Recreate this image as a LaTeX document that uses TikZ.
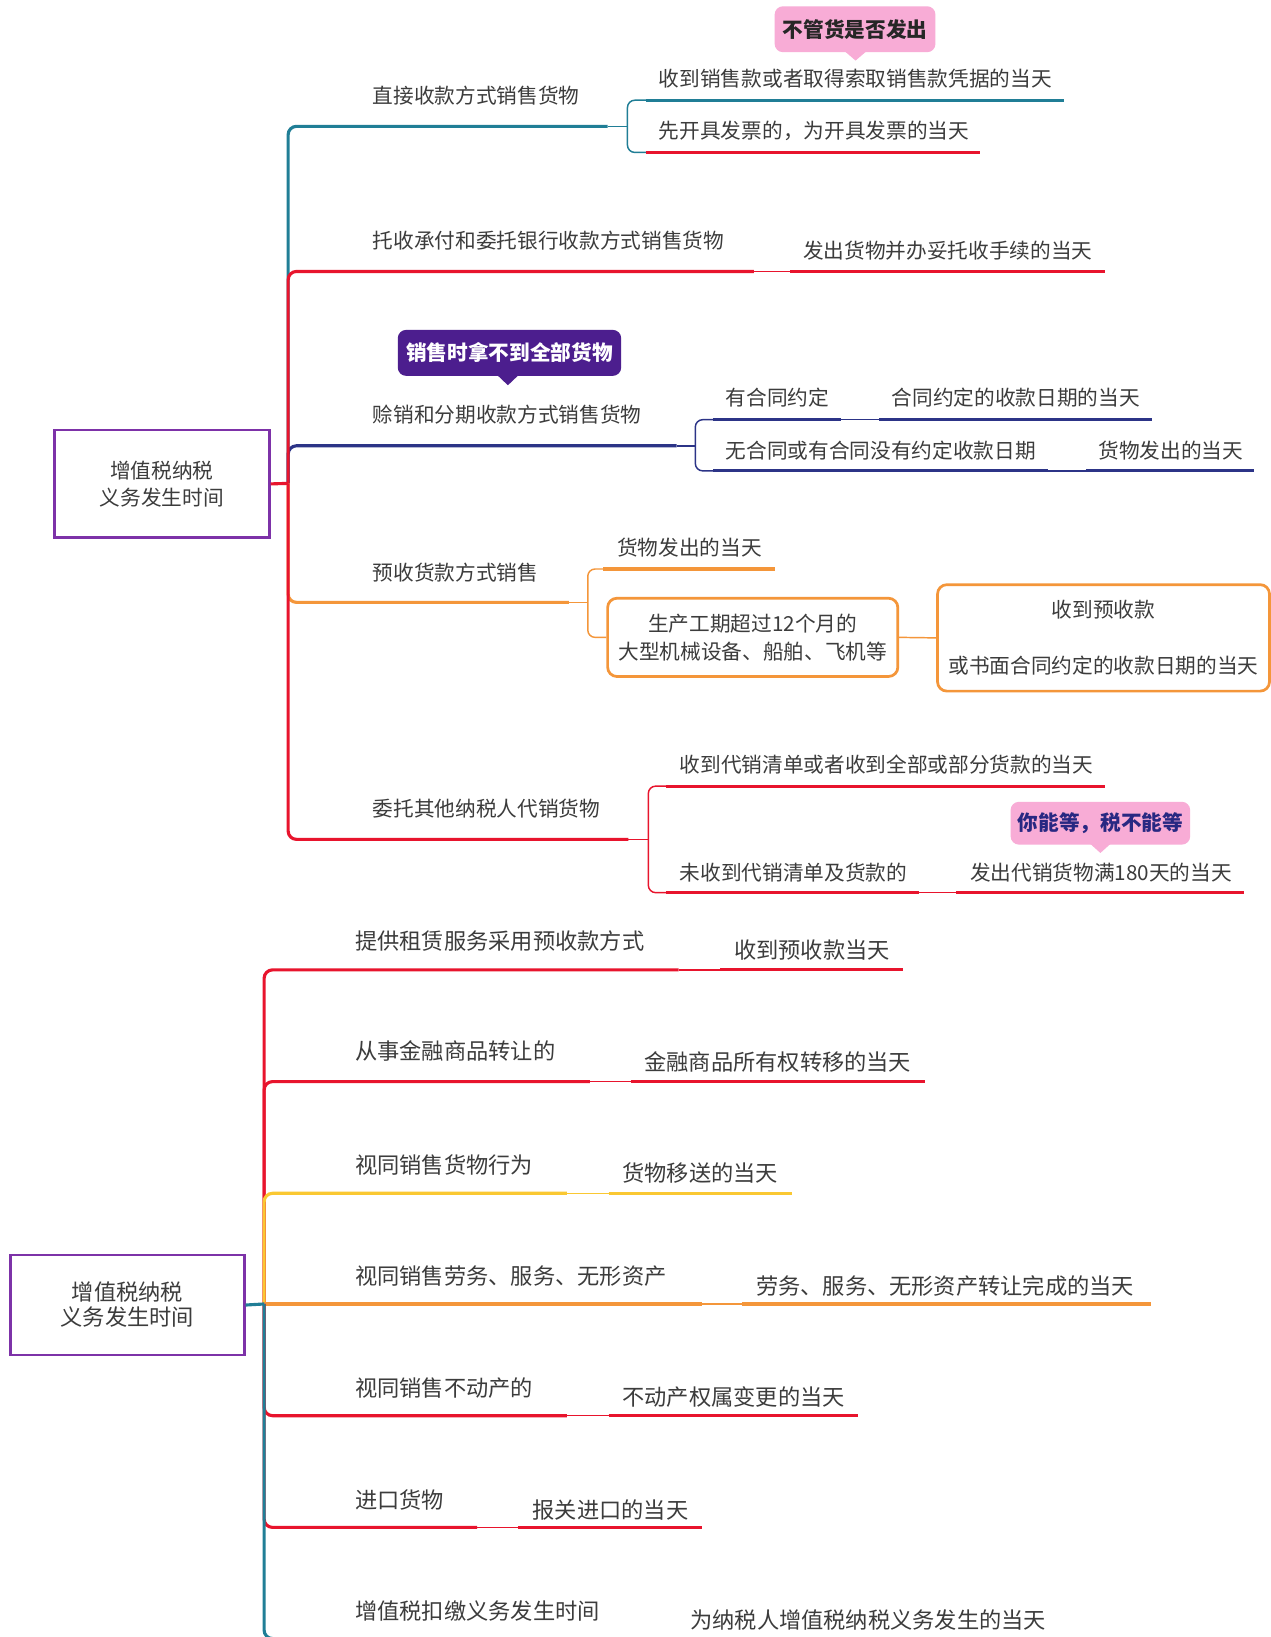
\documentclass[tikz,border=0pt]{standalone}
\usepackage{fontspec}
\setmainfont{Noto Sans CJK SC}
\definecolor{cteal}{RGB}{32,126,150}
\definecolor{cred}{RGB}{232,20,45}
\definecolor{cnavy}{RGB}{44,52,135}
\definecolor{corange}{RGB}{244,150,58}
\definecolor{cyellow}{RGB}{250,200,50}
\definecolor{cpurple}{RGB}{125,50,168}
\definecolor{cpink}{RGB}{248,172,214}
\definecolor{cdeep}{RGB}{76,30,142}
\definecolor{ctext}{RGB}{60,60,60}
\definecolor{cnavytext}{RGB}{40,40,130}
\newcommand\mainsize{\fontsize{19.8}{24}\selectfont}
\newcommand\lowsize{\fontsize{21.3}{24}\selectfont}
\tikzset{
 lbl/.style={anchor=west, inner sep=0pt, text=ctext, font=\mainsize},
 lbllow/.style={anchor=west, inner sep=0pt, text=ctext, font=\lowsize},
 trunk/.style={line width=3pt, rounded corners=8pt},
 bline/.style={line width=3pt},
 link/.style={line width=1.4pt},
 brace/.style={line width=1.4pt, rounded corners=7pt},
 rootbox/.style={draw=cpurple, line width=2.6pt, align=center, text=ctext, inner sep=0pt},
 obox/.style={draw=corange, line width=2.6pt, rounded corners=9pt, align=center, text=ctext, font=\mainsize, inner sep=0pt},
 callout/.style={rounded corners=8pt, inner sep=0pt, font=\bfseries\mainsize},
}
\begin{document}
\begin{tikzpicture}[x=1pt,y=-1pt]
\useasboundingbox (0,0) rectangle (1217,1568);
\fill[white] (0,0) rectangle (1217,1568);

%================ TOP MAP =================
\node[rootbox, font=\mainsize, minimum width=206pt, minimum height=103pt] (root1) at (155,463.5) {增值税纳税\\[2pt]义务发生时间};
\coordinate (s1) at (276,463);

% branch 1 (teal)
\coordinate (b1a) at (276,121); \coordinate (b1e) at (582,121); \coordinate (k1) at (601,121);
\coordinate (c1a) at (619,96); \coordinate (c1ae) at (1019,96);
\coordinate (c1b) at (619,146); \coordinate (c1be) at (939,146);
\draw[cteal, trunk] (s1) -- (b1a) -- (b1e);
\draw[cteal, link] (b1e) -- (k1);
\draw[cteal, brace] (c1a) -- (k1 |- c1a) -- (k1 |- c1b) -- (c1b);
\draw[cteal, bline] (c1a) -- (c1ae);
\draw[cred, bline] (c1b) -- (c1be);

% branch 3 (navy)
\coordinate (b3a) at (276,427); \coordinate (b3e) at (648,427); \coordinate (k3) at (666,427);
\coordinate (c3a) at (683,402); \coordinate (c3ae) at (806,402); \coordinate (c3af) at (842,402); \coordinate (c3ag) at (1103,402);
\coordinate (c3b) at (683,451); \coordinate (c3be) at (1004,451); \coordinate (c3bf) at (1040,451); \coordinate (c3bg) at (1201,451);
\draw[cnavy, trunk] (s1) -- (b3a) -- (b3e);
\draw[cnavy, link] (b3e) -- (k3);
\draw[cnavy, brace] (c3a) -- (k3 |- c3a) -- (k3 |- c3b) -- (c3b);
\draw[cnavy, bline] (c3a) -- (c3ae);
\draw[cnavy, link] (c3ae) -- (c3af);
\draw[cnavy, bline] (c3af) -- (c3ag);
\draw[cnavy, bline] (c3b) -- (c3be);
\draw[cnavy, link] (c3be) -- (c3bf);
\draw[cnavy, bline] (c3bf) -- (c3bg);

% branch 2 (red)
\coordinate (b2a) at (276,260); \coordinate (b2e) at (722,260); \coordinate (c2a) at (757,260); \coordinate (c2ae) at (1058,260);
\draw[cred, trunk] (s1) -- (b2a) -- (b2e);
\draw[cred, link] (b2e) -- (c2a);
\draw[cred, bline] (c2a) -- (c2ae);

% branch 4 (orange)
\coordinate (b4a) at (276,577); \coordinate (b4e) at (545,577); \coordinate (k4) at (563,577);
\coordinate (c4a) at (578,545); \coordinate (c4ae) at (742,545);
\node[obox, minimum width=278pt, minimum height=75pt] (box1) at (721,610.5) {生产工期超过12个月的\\[3pt]大型机械设备、船舶、飞机等};
\node[obox, minimum width=318pt, minimum height=102pt] (box2) at (1057,611) {收到预收款\\[30pt]或书面合同约定的收款日期的当天};
\draw[corange, trunk] (s1) -- (b4a) -- (b4e);
\draw[corange, link] (b4e) -- (k4);
\draw[corange, brace] (c4a) -- (k4 |- c4a) -- (k4 |- box1.west) -- (box1.west);
\draw[corange, bline] (c4a) -- (c4ae);
\draw[corange, link] (box1.east) -- (box2.west);

% branch 5 (red)
\coordinate (b5a) at (276,804); \coordinate (b5e) at (602,804); \coordinate (k5) at (621,804);
\coordinate (c5a) at (638,753); \coordinate (c5ae) at (1058,753);
\coordinate (c5b) at (638,855); \coordinate (c5be) at (880,855); \coordinate (c5bf) at (916,855); \coordinate (c5bg) at (1192,855);
\draw[cred, trunk] (s1) -- (b5a) -- (b5e);
\draw[cred, link] (b5e) -- (k5);
\draw[cred, brace] (c5a) -- (k5 |- c5a) -- (k5 |- c5b) -- (c5b);
\draw[cred, bline] (c5a) -- (c5ae);
\draw[cred, bline] (c5b) -- (c5be);
\draw[cred, link] (c5be) -- (c5bf);
\draw[cred, bline] (c5bf) -- (c5bg);

\draw[cred, bline] (root1.east) -- (s1);

% texts
\node[lbl] (t1) at (357,92) {直接收款方式销售货物};
\node[lbl] (t1a) at (631,75) {收到销售款或者取得索取销售款凭据的当天};
\node[lbl] (t1b) at (631,125) {先开具发票的，为开具发票的当天};
\node[lbl] (t2) at (357,230) {托收承付和委托银行收款方式销售货物};
\node[lbl] (t2a) at (769,240) {发出货物并办妥托收手续的当天};
\node[lbl] (t3) at (357,397) {赊销和分期收款方式销售货物};
\node[lbl] (t3a) at (695,381) {有合同约定};
\node[lbl] (t3a1) at (854,381) {合同约定的收款日期的当天};
\node[lbl] (t3b) at (695,432) {无合同或有合同没有约定收款日期};
\node[lbl] (t3b1) at (1052,432) {货物发出的当天};
\node[lbl] (t4) at (357,548) {预收货款方式销售};
\node[lbl] (t4a) at (591,525) {货物发出的当天};
\node[lbl] (t5) at (357,775) {委托其他纳税人代销货物};
\node[lbl] (t5a) at (651,732) {收到代销清单或者收到全部或部分货款的当天};
\node[lbl] (t5b) at (651,836) {未收到代销清单及货款的};
\node[lbl] (t5b1) at (929,836) {发出代销货物满180天的当天};

% callouts
\node[callout, fill=cpink, text=black!85, minimum width=154pt, minimum height=44pt] (co1) at (819,28) {不管货是否发出};
\fill[cpink] (809,49) -- (819.5,58) -- (830,49) -- cycle;
\node[callout, fill=cdeep, text=white, minimum width=214pt, minimum height=44pt] (co2) at (488,338) {销售时拿不到全部货物};
\fill[cdeep] (476,359) -- (486.5,369) -- (497,359) -- cycle;
\node[callout, fill=cpink, text=cnavytext, minimum width=172pt, minimum height=41pt] (co3) at (1054,788.5) {你能等，税不能等};
\fill[cpink] (1044,808) -- (1054,817) -- (1064,808) -- cycle;

%================ BOTTOM MAP =================
\node[rootbox, font=\lowsize, minimum width=224pt, minimum height=96pt] (root2) at (122,1250) {增值税纳税\\义务发生时间};
\coordinate (s2) at (253,1249);

% upper branches
\coordinate (u1a) at (253,929); \coordinate (u1e) at (650,929); \coordinate (u1c) at (690,929); \coordinate (u1ce) at (865,929);
\draw[cred, trunk] (s2) -- (u1a) -- (u1e);
\draw[cred, link] (u1e) -- (u1c);
\draw[cred, bline] (u1c) -- (u1ce);

\coordinate (u2a) at (253,1036); \coordinate (u2e) at (565,1036); \coordinate (u2c) at (604,1036); \coordinate (u2ce) at (886,1036);
\draw[cred, trunk] (s2) -- (u2a) -- (u2e);
\draw[cred, link] (u2e) -- (u2c);
\draw[cred, bline] (u2c) -- (u2ce);

\coordinate (u3a) at (253,1143); \coordinate (u3e) at (543,1143); \coordinate (u3c) at (583,1143); \coordinate (u3ce) at (759,1143);
\draw[cyellow, trunk] (s2) -- (u3a) -- (u3e);
\draw[cyellow, link] (u3e) -- (u3c);
\draw[cyellow, bline] (u3c) -- (u3ce);

\coordinate (u4e) at (672,1249); \coordinate (u4c) at (711,1249); \coordinate (u4ce) at (1102,1249);
\draw[corange, bline] (s2) -- (u4e);
\draw[corange, link] (u4e) -- (u4c);
\draw[corange, bline] (u4c) -- (u4ce);

% lower branches
\coordinate (u5a) at (253,1356); \coordinate (u5e) at (543,1356); \coordinate (u5c) at (583,1356); \coordinate (u5ce) at (822,1356);
\draw[cred, trunk] (s2) -- (u5a) -- (u5e);
\draw[cred, link] (u5e) -- (u5c);
\draw[cred, bline] (u5c) -- (u5ce);

\coordinate (u6a) at (253,1463); \coordinate (u6e) at (457,1463); \coordinate (u6c) at (496,1463); \coordinate (u6ce) at (672,1463);
\draw[cred, trunk] (s2) -- (u6a) -- (u6e);
\draw[cred, link] (u6e) -- (u6c);
\draw[cred, bline] (u6c) -- (u6ce);

\coordinate (u7a) at (253,1569.5); \coordinate (u7e) at (640,1569.5);
\draw[cteal, trunk] (s2) -- (u7a) -- (u7e);

\draw[cteal, bline] (root2.east) -- (s2);

% texts
\node[lbllow] (v1) at (340,901) {提供租赁服务采用预收款方式};
\node[lbllow] (v1a) at (703,910) {收到预收款当天};
\node[lbllow] (v2) at (340,1007) {从事金融商品转让的};
\node[lbllow] (v2a) at (617,1017) {金融商品所有权转移的当天};
\node[lbllow] (v3) at (340,1116) {视同销售货物行为};
\node[lbllow] (v3a) at (596,1124) {货物移送的当天};
\node[lbllow] (v4) at (340,1222) {视同销售劳务、服务、无形资产};
\node[lbllow] (v4a) at (724,1232) {劳务、服务、无形资产转让完成的当天};
\node[lbllow] (v5) at (340,1330) {视同销售不动产的};
\node[lbllow] (v5a) at (596,1338) {不动产权属变更的当天};
\node[lbllow] (v6) at (340,1437) {进口货物};
\node[lbllow] (v6a) at (510,1446) {报关进口的当天};
\node[lbllow] (v7) at (340,1543) {增值税扣缴义务发生时间};
\node[lbllow] (v7a) at (661,1552) {为纳税人增值税纳税义务发生的当天};
\end{tikzpicture}
\end{document}
